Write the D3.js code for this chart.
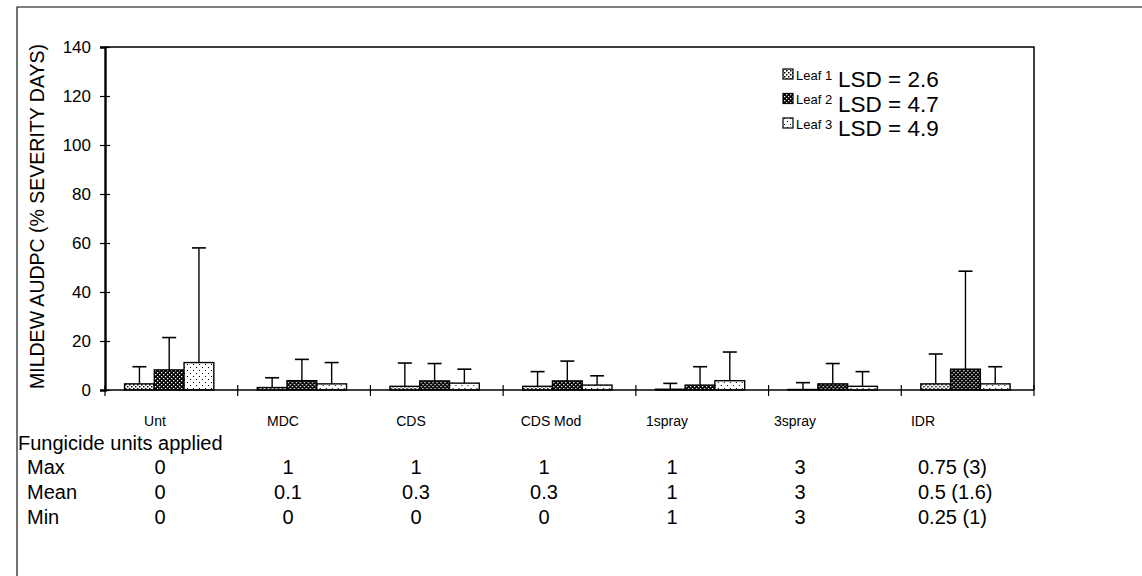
<!DOCTYPE html>
<html><head><meta charset="utf-8">
<script src="https://cdn.jsdelivr.net/npm/d3@7"></script>
<style>
html,body{margin:0;padding:0;background:#fff;}
svg{display:block;font-family:Arial,"Liberation Sans",sans-serif;}
</style></head>
<body>
<svg id="c" width="1142" height="576"></svg>
<script>
// ---- data ----
const categories = ["Unt","MDC","CDS","CDS Mod","1spray","3spray","IDR"];
const leaves = ["Leaf 1","Leaf 2","Leaf 3"];
const lsdLabels = ["LSD = 2.6","LSD = 4.7","LSD = 4.9"];
const leaf1 = [2.5, 1.0, 1.5, 1.5, 0.3, 0.2, 2.5];
const leaf2 = [8.2, 3.8, 3.7, 3.7, 2.0, 2.5, 8.5];
const leaf3 = [11.2, 2.5, 2.8, 2.0, 3.8, 1.5, 2.5];
const leaf1Err = [7.0, 4.0, 9.5, 6.0, 2.4, 2.8, 12.2];
const leaf2Err = [13.2, 8.7, 7.1, 8.1, 7.5, 8.3, 40.0];
const leaf3Err = [46.8, 8.7, 5.7, 3.8, 11.7, 6.0, 7.0];
const yTicks = [0,20,40,60,80,100,120,140];
const tableTitle = "Fungicide units applied";
const rowNames = ["Max","Mean","Min"];
const maxRow = ["0","1","1","1","1","3","0.75 (3)"];
const meanRow = ["0","0.1","0.3","0.3","1","3","0.5 (1.6)"];
const minRow = ["0","0","0","0","1","3","0.25 (1)"];

const values = [leaf1, leaf2, leaf3];
const errs = [leaf1Err, leaf2Err, leaf3Err];
const tableRows = [maxRow, meanRow, minRow];

const svg = d3.select("#c");

// patterns
const defs = svg.append("defs");
function pat(id, size, bg, fg, dots){
  const p = defs.append("pattern").attr("id", id).attr("patternUnits","userSpaceOnUse")
    .attr("width", size).attr("height", size);
  p.append("rect").attr("width", size).attr("height", size).attr("fill", bg);
  dots.forEach(d => p.append("rect").attr("x", d[0]).attr("y", d[1]).attr("width", d[2]).attr("height", d[2]).attr("fill", fg));
}
pat("p1", 4, "#fff", "#000", [[0,0,1.5],[2,2,1.5]]);
pat("p2", 4, "#000", "#fff", [[0,0,1.3],[2,2,1.3]]);
pat("p3", 6, "#fff", "#000", [[1,1,1],[4,4,1]]);
const fills = ["url(#p1)","url(#p2)","url(#p3)"];

// outer frame
svg.append("path").attr("d","M17,600 L17,7 L1160,7").attr("fill","none").attr("stroke","#000").attr("stroke-width",1.1);

const x0 = 105, x1 = 1034, yTop = 47, yBot = 390;
const x = d3.scaleBand().domain(categories).range([x0, x1]).padding(0);
const xi = d3.scaleBand().domain(leaves).range([0, x.bandwidth()]).paddingInner(0).paddingOuter(0.73).align(0.45);
const y = d3.scaleLinear().domain([0,140]).range([yBot, yTop]);

// plot frame top/right
svg.append("path").attr("d",`M${x0},${yTop} L${x1},${yTop} L${x1},${yBot}`).attr("fill","none").attr("stroke","#000").attr("stroke-width",1.5);

// y axis
const yAxis = d3.axisLeft(y).tickValues(yTicks).tickSize(5).tickPadding(9);
const ga = svg.append("g").attr("transform",`translate(${x0},0)`).call(yAxis);
ga.select(".domain").attr("stroke-width",2.4);
ga.selectAll(".tick line").attr("x2",-5).attr("x1",5).attr("stroke-width",1.2);
ga.selectAll(".tick text").attr("font-size",17).attr("font-family","Arial,'Liberation Sans',sans-serif").attr("fill","#000");

// y title
svg.append("text").attr("transform",`translate(44,${(yTop+yBot)/2 - 2}) rotate(-90)`)
  .attr("text-anchor","middle").attr("font-size",19.5).attr("fill","#000")
  .text("MILDEW AUDPC (% SEVERITY DAYS)");

// bars
const groups = svg.append("g").selectAll("g").data(categories).join("g")
  .attr("transform", c => `translate(${x(c)},0)`);
leaves.forEach((lf, li) => {
  groups.append("rect")
    .attr("x", xi(lf)).attr("width", xi.bandwidth())
    .attr("y", (c,i) => y(values[li][i])).attr("height", (c,i) => y(0) - y(values[li][i]))
    .attr("fill", fills[li]).attr("stroke","#000").attr("stroke-width",1.4);
});
leaves.forEach((lf, li) => {
  const cx = xi(lf) + xi.bandwidth()/2;
  groups.append("line").attr("x1",cx).attr("x2",cx)
    .attr("y1",(c,i)=>y(values[li][i])).attr("y2",(c,i)=>y(values[li][i]+errs[li][i]))
    .attr("stroke","#000").attr("stroke-width",1.4);
  groups.append("line").attr("x1",cx-7).attr("x2",cx+7)
    .attr("y1",(c,i)=>y(values[li][i]+errs[li][i])).attr("y2",(c,i)=>y(values[li][i]+errs[li][i]))
    .attr("stroke","#000").attr("stroke-width",1.6);
});

// x axis
svg.append("line").attr("x1",x0).attr("x2",x1).attr("y1",yBot).attr("y2",yBot).attr("stroke","#000").attr("stroke-width",1.6);
const bounds = categories.map(c => x(c)).concat([x1]);
svg.append("g").selectAll("line").data(bounds).join("line")
  .attr("x1",d=>d).attr("x2",d=>d).attr("y1",yBot-5).attr("y2",yBot+6).attr("stroke","#000").attr("stroke-width",1.2);

// category labels (table row, offset from bars like the original)
const lab = d3.scalePoint().domain(categories).range([155, 923]);
svg.append("g").selectAll("text").data(categories).join("text")
  .attr("x", c => lab(c) + (c === "CDS Mod" ? 12 : 0)).attr("y", 426).attr("text-anchor","middle")
  .attr("font-size",14).attr("fill","#000").text(c => c);

// legend
const lg = svg.append("g");
const ly = d3.scalePoint().domain(leaves).range([74, 123]);
leaves.forEach((lf, li) => {
  lg.append("rect").attr("x",783).attr("y",ly(lf)-5).attr("width",10).attr("height",10)
    .attr("fill",fills[li]).attr("stroke","#000").attr("stroke-width",1.2);
  lg.append("text").attr("x",796).attr("y",ly(lf)+5.5).attr("font-size",13).attr("fill","#000").text(lf);
  lg.append("text").attr("x",838).attr("y",ly(lf)+13).attr("font-size",22.5).attr("fill","#000").text(lsdLabels[li]);
});

// table
svg.append("text").attr("x",18).attr("y",450).attr("font-size",20).attr("fill","#000").text(tableTitle);
const rowY = d3.scalePoint().domain(rowNames).range([474, 524]);
const last = categories[categories.length - 1];
rowNames.forEach((rn, ri) => {
  svg.append("text").attr("x",27).attr("y",rowY(rn)).attr("font-size",20).attr("fill","#000").text(rn);
  svg.append("g").selectAll("text").data(tableRows[ri]).join("text")
    .attr("x",(v,i)=> categories[i] === last ? lab(categories[i]) - 5 : lab(categories[i]) + 5)
    .attr("text-anchor",(v,i)=> categories[i] === last ? "start" : "middle")
    .attr("y",rowY(rn)).attr("font-size",20).attr("fill","#000").text(v=>v);
});
</script>
</body></html>
